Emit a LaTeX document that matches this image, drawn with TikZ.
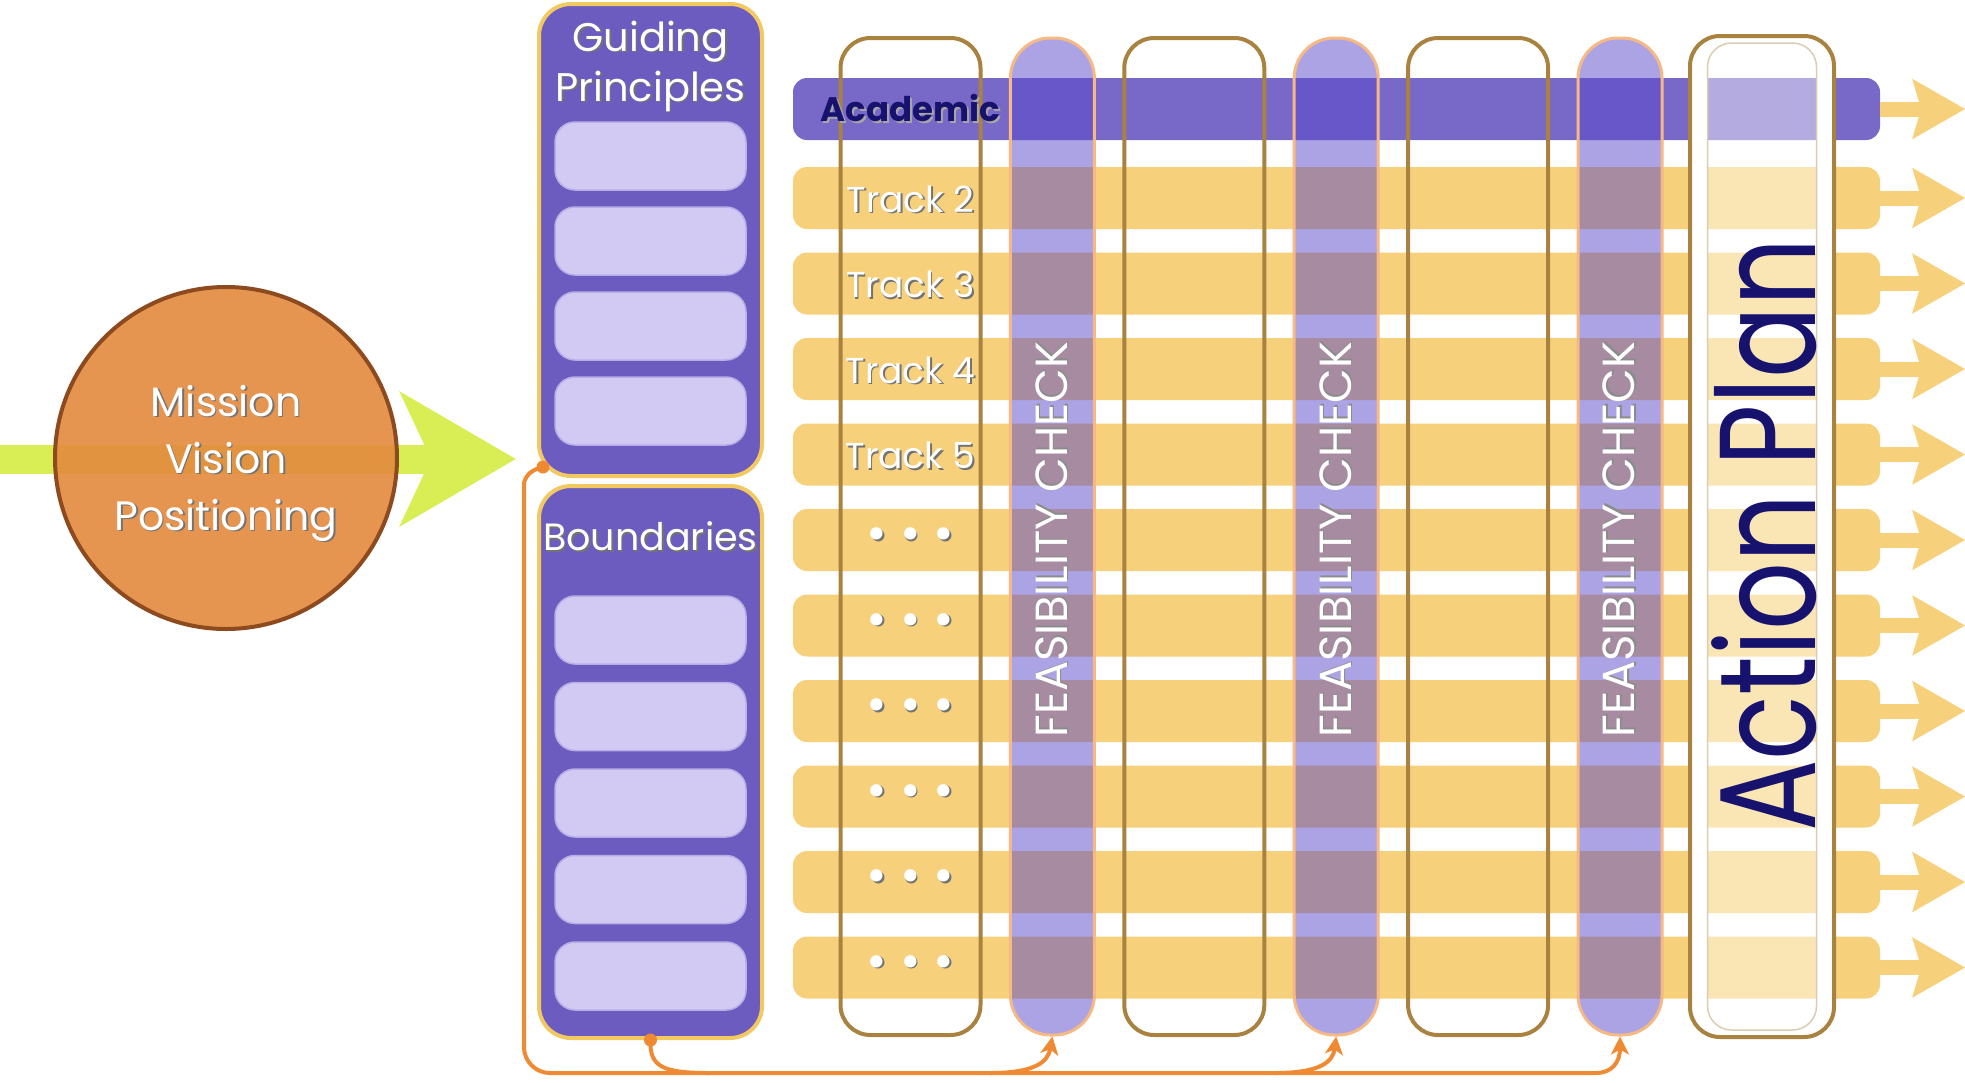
\documentclass[tikz,border=0pt]{standalone}
\usepackage{fontspec}
\setmainfont{Poppins}
\usepackage{tikz}
\usetikzlibrary{arrows.meta,positioning,calc}
\definecolor{naranja}{HTML}{E38A3E}
\definecolor{naranjaoscuro}{HTML}{8C4A1E}
\definecolor{lima}{HTML}{D9EE55}
\definecolor{morado}{HTML}{6C5CC0}
\definecolor{moradoclaro}{HTML}{D2CAF3}
\definecolor{moradofila}{HTML}{7868C8}
\definecolor{moradocol}{HTML}{5848C8}
\definecolor{amarillo}{HTML}{F6D07A}
\definecolor{dorado}{HTML}{F2C860}
\definecolor{marron}{HTML}{A8823E}
\definecolor{naranjalinea}{HTML}{F08A32}
\definecolor{azulnoche}{HTML}{16126E}
\newcommand{\sombreado}[2][black!55]{\makebox[0pt][l]{\hspace{1.6pt}\raisebox{-1.6pt}{\textcolor{#1}{#2}}}#2}
\tikzset{
  circulo/.style={circle,draw=naranjaoscuro,line width=4pt,fill=naranja,fill opacity=0.9,text opacity=1,minimum size=342pt,inner sep=0pt,text=white,align=center,font=\fontsize{41}{57}\selectfont},
  flechaverde/.style={lima,line width=29pt,-{Stealth[length=115pt,width=132pt,inset=30pt]}},
  panel/.style={draw=dorado,line width=4pt,fill=morado,rounded corners=32pt,minimum width=223pt,inner sep=0pt},
  casilla/.style={draw=moradoclaro!75!morado,line width=1.5pt,fill=moradoclaro,rounded corners=20pt,minimum width=191pt,minimum height=68pt,inner sep=0pt},
  titulo/.style={text=white,align=center,font=\fontsize{40}{50}\selectfont,inner sep=0pt},
  fila/.style={fill=amarillo,rounded corners=14pt,minimum width=1087pt,minimum height=62pt,inner sep=0pt},
  filaacad/.style={fila,fill=moradofila},
  flechafila/.style={amarillo,line width=15pt,-{Stealth[length=52pt,width=58pt,inset=8pt]}},
  columna/.style={draw=marron,line width=4pt,rounded corners=30pt,minimum width=140pt,minimum height=997pt,inner sep=0pt},
  factibilidad/.style={draw=naranjalinea!60,line width=3pt,fill=moradocol,fill opacity=0.5,rounded corners=40pt,minimum width=84pt,minimum height=997pt,inner sep=0pt},
  etiq/.style={text=white,font=\fontsize{36}{36}\selectfont,inner sep=0pt},
  puntos/.style={text=white,font=\fontsize{50}{50}\selectfont,inner sep=0pt},
  vertical/.style={text=white,rotate=90,font=\fontsize{45}{45}\selectfont,inner sep=0pt},
  conector/.style={naranjalinea,line width=4pt,rounded corners=26pt},
  flecha/.style={conector,-{Stealth[length=18pt,width=18pt,inset=5pt]}},
  punto/.style={circle,fill=naranjalinea,minimum size=13pt,inner sep=0pt},
}
\begin{document}
\begin{tikzpicture}[x=1pt,y=-1pt]
  \useasboundingbox (0,0) rectangle (1965,1082);
  % mission circle and entry arrow
  \coordinate (entrada) at (0,459);
  \coordinate (punta) at (516,459);
  \draw[flechaverde] (entrada) -- (punta);
  \node[circulo] (mvp) at (226,458) {};
  \node[text=white,align=center,inner sep=0pt,font=\fontsize{41}{57}\selectfont] (tmvp) at (226,464)
    {\sombreado{Mission}\\\sombreado{Vision}\\\sombreado{Positioning}};

  % tracks
  \node[filaacad] (r1) at (1336.5,109) {};
  \draw[flechafila] (r1.east) -- ++(85,0);
  \foreach \i in {2,...,11} {
    \node[fila] (r\i) at (1336.5,{198+85.5*(\i-2)}) {};
    \draw[flechafila] (r\i.east) -- ++(85,0);
  }

  % columns
  \foreach \k/\nom in {0/c1,2/c2,4/c3}
    \node[columna] (\nom) at ({910.5+141.9*\k},536.5) {};
  \foreach \k/\nom in {1/f1,3/f2,5/f3}
    \node[factibilidad] (\nom) at ({910.5+141.9*\k},536.5) {};

  % action plan column
  \path (1762,536.5) node[columna,draw=none] (plan) {}
                     node[columna,draw=none,minimum width=105pt,minimum height=983pt] (planin) {};
  \fill[white,even odd rule,rounded corners=28pt] (plan.south west) rectangle (plan.north east)
       (planin.south west) rectangle (planin.north east);
  \fill[white,opacity=0.45,rounded corners=24pt] (planin.south west) rectangle (planin.north east);
  \draw[marron!40,line width=1.5pt,rounded corners=24pt] (planin.south west) rectangle (planin.north east);
  \draw[marron,line width=4pt,rounded corners=30pt] (plan.south west) rectangle (plan.north east);
  \node[rotate=90,text=azulnoche,inner sep=0pt,font=\fontsize{112}{112}\selectfont] (tplan) at (1764,535)
    {\scalebox{0.95}[1.22]{Action Plan}};

  % labels
  \node[etiq,text=azulnoche,font={\fontsize{34}{34}\selectfont\bfseries}] (e1) at (c1.center |- r1.center) {\sombreado[black!35]{Academic}};
  \foreach \i in {2,...,5}
    \node[etiq] (e\i) at ([yshift=-2pt]c1.center |- r\i.center) {\sombreado{Track \i}};
  \foreach \i in {6,...,11}
    \node[puntos] (e\i) at (c1.center |- r\i.center) {\sombreado{•\hspace{13pt}•\hspace{13pt}•}};
  \foreach \nom in {f1,f2,f3}
    \node[vertical] (v\nom) at ([yshift=-3pt]\nom.center) {\sombreado[black!45]{FEASIBILITY CHECK}};

  % guiding principles and boundaries
  \node[panel,minimum height=472pt] (gp) at (650.5,240) {};
  \node[titulo] (tgp) at (650.5,67) {\sombreado{Guiding}\\\sombreado{Principles}};
  \foreach \j in {0,...,3}
    \node[casilla] (g\j) at (650.5,{156+85*\j}) {};
  \node[panel,minimum height=552pt] (bnd) at (650.5,762) {};
  \node[titulo,font=\fontsize{38}{38}\selectfont] (tbnd) at (650.5,537) {\sombreado{Boundaries}};
  \foreach \j in {0,...,4}
    \node[casilla] (b\j) at (650.5,{630+86.5*\j}) {};

  % feedback connectors
  \node[punto] (pG) at (543,467) {};
  \node[punto] (pB) at (bnd.south) {};
  \draw[flecha] (pG.center) .. controls (528,470) and (524,480) .. (524,510) -- (524,1073) -- (1570,1073)
       .. controls (1612,1073) and (1620,1062) .. (f3.south);
  \draw[conector] (pB.center) .. controls (649,1068) and (665,1073) .. (710,1073);
  \draw[flecha] (990,1073) .. controls (1035,1073) and (1048,1062) .. (f1.south);
  \draw[flecha] (1275,1073) .. controls (1320,1073) and (1333,1062) .. (f2.south);
\end{tikzpicture}
\end{document}
